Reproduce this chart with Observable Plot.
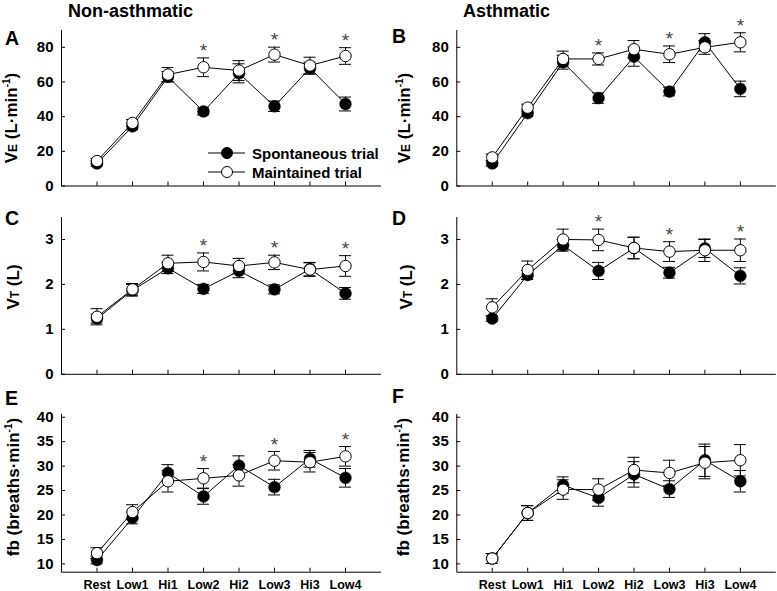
<!DOCTYPE html>
<html><head><meta charset="utf-8">
<script src="https://cdn.jsdelivr.net/npm/d3@7"></script>
<script src="https://cdn.jsdelivr.net/npm/@observablehq/plot@0.6"></script>
<style>
body{margin:0;background:#fff;}
#fig{position:relative;width:777px;height:591px;font-family:"Liberation Sans",Arial,sans-serif;}
#fig > svg{position:absolute;}
</style></head><body><div id="fig"></div>
<script>
const cats = ["Rest","Low1","Hi1","Low2","Hi2","Low3","Hi3","Low4"];
const sigCats = ["Low2","Low3","Low4"];

// Panel A: VE non-asthmatic
const aSpont = [13, 34.4, 63, 43, 65, 46, 68, 47.3];
const aSpontErr = [1.5, 2, 3, 2, 5.5, 3, 3.5, 4];
const aMaint = [14.4, 36.4, 64.3, 68.5, 66.6, 75.8, 69.5, 75];
const aMaintErr = [1.5, 2, 4, 5.4, 5.7, 4.3, 4.8, 4.8];
// Panel B: VE asthmatic
const bSpont = [13, 42, 71.4, 50.7, 74.6, 54.5, 82.9, 56];
const bSpontErr = [1.5, 2, 4, 3, 5.5, 2.5, 5, 4.5];
const bMaint = [16.5, 45.2, 73.3, 73.3, 78.9, 76, 80, 82.9];
const bMaintErr = [2, 2, 4.5, 3.5, 5, 4.8, 4, 5.5];
// Panel C: VT non-asthmatic
const cSpont = [1.24, 1.87, 2.36, 1.9, 2.3, 1.89, 2.34, 1.8];
const cSpontErr = [0.1, 0.13, 0.12, 0.1, 0.15, 0.1, 0.15, 0.13];
const cMaint = [1.28, 1.89, 2.47, 2.5, 2.41, 2.49, 2.33, 2.41];
const cMaintErr = [0.18, 0.13, 0.18, 0.2, 0.17, 0.16, 0.15, 0.23];
// Panel D: VT asthmatic
const dSpont = [1.24, 2.21, 2.87, 2.3, 2.81, 2.26, 2.8, 2.19];
const dSpontErr = [0.06, 0.1, 0.13, 0.19, 0.24, 0.12, 0.2, 0.18];
const dMaint = [1.49, 2.32, 3.0, 2.99, 2.81, 2.73, 2.76, 2.76];
const dMaintErr = [0.19, 0.2, 0.23, 0.24, 0.24, 0.22, 0.25, 0.25];
// Panel E: fb non-asthmatic
const eSpont = [10.8, 19.4, 28.6, 23.8, 30.1, 25.7, 31.5, 27.6];
const eSpontErr = [0.8, 1.2, 1.7, 1.6, 2.0, 1.6, 1.7, 1.9];
const eMaint = [12.2, 20.6, 26.9, 27.5, 28.1, 31.1, 30.8, 32];
const eMaintErr = [1.1, 1.5, 2.2, 2.0, 2.2, 1.9, 2.0, 2.0];
// Panel F: fb asthmatic
const fSpont = [11.1, 20.4, 26.1, 23.5, 28.3, 25.3, 31.2, 26.9];
const fSpontErr = [1.0, 1.5, 1.7, 1.7, 2.6, 1.7, 3.3, 2.2];
const fMaint = [11.1, 20.4, 25.2, 25.2, 29.2, 28.6, 30.7, 31.2];
const fMaintErr = [1.0, 1.5, 2.0, 2.2, 2.6, 2.6, 3.3, 3.2];

const veTicks = [0, 20, 40, 60, 80];
const vtTicks = [0, 1, 2, 3];
const fbTicks = [10, 15, 20, 25, 30, 35, 40];

const FONT = '"Liberation Sans", Arial, sans-serif';
const fig = document.getElementById("fig");

function panel(o) {
  const rows = cats.map((c, i) => ({c, s: o.spont[i], se: o.spontErr[i], m: o.maint[i], me: o.maintErr[i]}));
  const starRows = rows.filter(r => o.sig.includes(r.c));
  const w = o.width - o.ml - o.mr, h = o.height - o.mt - o.mb;
  const p = Plot.plot({
    width: o.width, height: o.height,
    marginTop: o.mt, marginBottom: o.mb, marginLeft: o.ml, marginRight: o.mr,
    style: {fontFamily: FONT, background: "transparent", overflow: "visible", color: "black"},
    x: {type: "band", domain: cats, paddingInner: 0.662, paddingOuter: 0.831, round: false},
    y: {domain: o.domain},
    marks: [
      Plot.frame({stroke: "black", strokeWidth: 1, strokeDasharray: `0 ${w + h} ${w + h}`}),
      Plot.axisY({ticks: o.ticks, tickSize: -4, tickPadding: 12, label: null, fontSize: 15, fontWeight: "bold", tickFormat: d => String(d)}),
      Plot.axisX({tickSize: -4, tickPadding: 12, label: null, fontSize: 12.5, fontWeight: "bold",
        tickFormat: o.xlabels ? (d => d) : (() => "")}),
      Plot.line(rows, {x: "c", y: "s", stroke: "black", strokeWidth: 1}),
      Plot.line(rows, {x: "c", y: "m", stroke: "black", strokeWidth: 1}),
      Plot.ruleX(rows, {x: "c", y1: d => d.s - d.se, y2: d => d.s + d.se, stroke: "black", strokeWidth: 1}),
      Plot.tickY(rows, {x: "c", y: d => d.s - d.se, stroke: "black", strokeWidth: 1}),
      Plot.tickY(rows, {x: "c", y: d => d.s + d.se, stroke: "black", strokeWidth: 1}),
      Plot.dot(rows, {x: "c", y: "s", r: 5.9, fill: "black", stroke: "black", strokeWidth: 0.5}),
      Plot.ruleX(rows, {x: "c", y1: d => d.m - d.me, y2: d => d.m + d.me, stroke: "black", strokeWidth: 1}),
      Plot.tickY(rows, {x: "c", y: d => d.m - d.me, stroke: "black", strokeWidth: 1}),
      Plot.tickY(rows, {x: "c", y: d => d.m + d.me, stroke: "black", strokeWidth: 1}),
      Plot.dot(rows, {x: "c", y: "m", r: 5.7, fill: "white", stroke: "black", strokeWidth: 1}),
      Plot.text(starRows, {x: "c", y: d => d.m + d.me, text: () => "*", dy: -7, fontSize: 19, fill: "#444"})
    ]
  });
  p.style.left = o.left + "px";
  p.style.top = o.top + "px";
  fig.appendChild(p);
}

const L = {left: 0, width: 390, ml: 61, mr: 9.5};
const R = {left: 390, width: 387, ml: 66.3, mr: 1.7};
const R1 = {top: 0, height: 192, mt: 29.5, mb: 6.5};
const R2 = {top: 200, height: 180, mt: 16.5, mb: 6.2};
const R3 = {top: 400, height: 191, mt: 13.3, mb: 19.3};

panel({...L, ...R1, spont: aSpont, spontErr: aSpontErr, maint: aMaint, maintErr: aMaintErr, sig: sigCats, domain: [0, 90], ticks: veTicks});
panel({...R, ...R1, spont: bSpont, spontErr: bSpontErr, maint: bMaint, maintErr: bMaintErr, sig: sigCats, domain: [0, 90], ticks: veTicks});
panel({...L, ...R2, spont: cSpont, spontErr: cSpontErr, maint: cMaint, maintErr: cMaintErr, sig: sigCats, domain: [0, 3.5], ticks: vtTicks});
panel({...R, ...R2, spont: dSpont, spontErr: dSpontErr, maint: dMaint, maintErr: dMaintErr, sig: sigCats, domain: [0, 3.5], ticks: vtTicks});
panel({...L, ...R3, spont: eSpont, spontErr: eSpontErr, maint: eMaint, maintErr: eMaintErr, sig: sigCats, domain: [8.3, 40.7], ticks: fbTicks, xlabels: true});
panel({...R, ...R3, spont: fSpont, spontErr: fSpontErr, maint: fMaint, maintErr: fMaintErr, sig: [], domain: [8.3, 40.7], ticks: fbTicks, xlabels: true});

// Overlay: titles, panel letters, axis titles, legend
const ov = d3.select(fig).append("svg")
  .attr("width", 777).attr("height", 591)
  .style("left", "0px").style("top", "0px").style("pointer-events", "none")
  .attr("font-family", FONT).attr("font-weight", "bold").attr("fill", "black");

ov.append("text").attr("x", 68).attr("y", 17).attr("font-size", 18).text("Non-asthmatic");
ov.append("text").attr("x", 463).attr("y", 17).attr("font-size", 18).text("Asthmatic");

const letters = [["A", 5, 45], ["B", 392, 43], ["C", 5, 225], ["D", 392, 225], ["E", 5, 405], ["F", 392, 403]];
letters.forEach(([t, x, y]) => ov.append("text").attr("x", x).attr("y", y).attr("font-size", 19.5).text(t));

function ylab(x, y, kind) {
  const t = ov.append("text").attr("transform", `translate(${x},${y}) rotate(-90)`)
    .attr("text-anchor", "middle").attr("font-size", 17);
  if (kind === "ve") {
    t.append("tspan").text("V");
    t.append("tspan").attr("font-size", 12).text("E");
    t.append("tspan").text(" (L\u00B7min");
    t.append("tspan").attr("font-size", 10).attr("dy", -7).text("-1");
    t.append("tspan").attr("dy", 7).text(")");
  } else if (kind === "vt") {
    t.append("tspan").text("V");
    t.append("tspan").attr("font-size", 12).text("T");
    t.append("tspan").text(" (L)");
  } else {
    t.append("tspan").text("fb (breaths\u00B7min");
    t.append("tspan").attr("font-size", 10).attr("dy", -7).text("-1");
    t.append("tspan").attr("dy", 7).text(")");
  }
}
ylab(16.5, 118, "ve");
ylab(409.5, 118, "ve");
ylab(18.5, 287, "vt");
ylab(411.5, 287, "vt");
ylab(18.5, 487, "fb");
ylab(409, 487, "fb");

// Legend in panel A
const legendItems = [["Spontaneous trial", "black", 153], ["Maintained trial", "white", 172]];
legendItems.forEach(([label, fill, y]) => {
  ov.append("line").attr("x1", 208).attr("x2", 245).attr("y1", y).attr("y2", y).attr("stroke", "black").attr("stroke-width", 1);
  ov.append("circle").attr("cx", 227).attr("cy", y).attr("r", 5.5).attr("fill", fill).attr("stroke", "black").attr("stroke-width", 1);
  ov.append("text").attr("x", 252).attr("y", y + 5.5).attr("font-size", 15).text(label);
});
</script>
</body></html>
